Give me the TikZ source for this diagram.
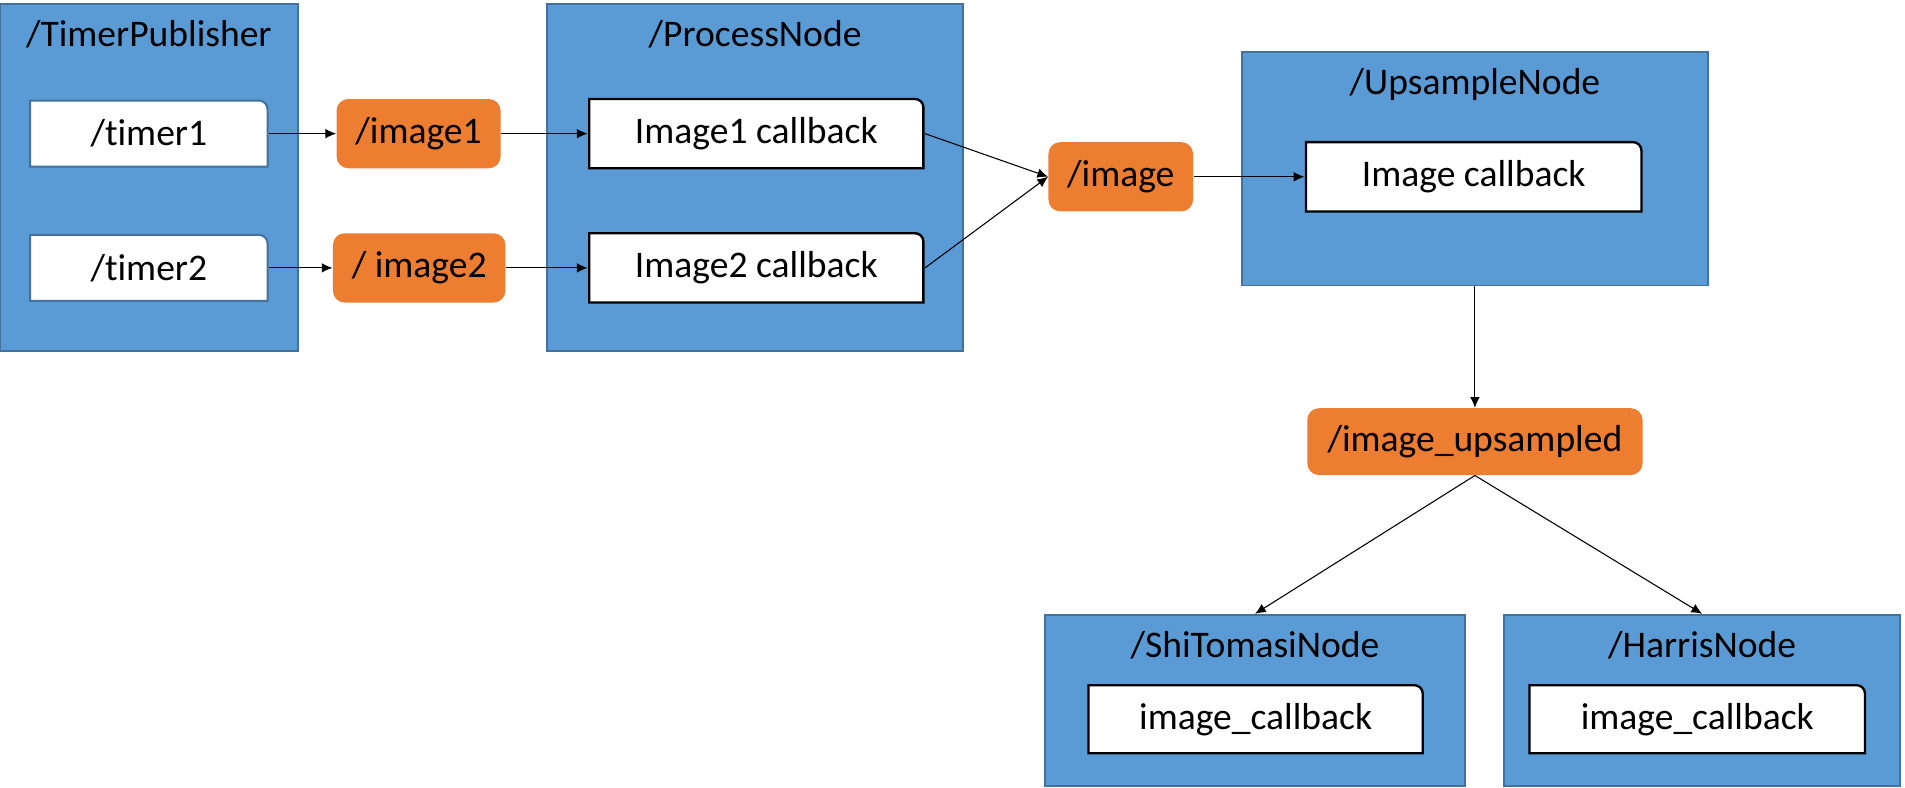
\documentclass[tikz,border=0pt]{standalone}
\usepackage{fontspec}
\setmainfont{Carlito}[Ligatures=NoCommon]
\usetikzlibrary{shapes,shapes.geometric,calc,arrows.meta}

\definecolor{nodeblue}{HTML}{5B9BD5}
\definecolor{nodeline}{HTML}{41719C}
\definecolor{topicorange}{HTML}{ED7D31}

% white box with only the top right corner rounded
\newcommand{\cbshape}[2]{%
	\draw[draw=#1, fill=white, line width=#2]
		([shift={(#2/2,#2/2)}]path picture bounding box.south west)
		-- ([shift={(#2/2,-#2/2)}]path picture bounding box.north west)
		-- ([shift={(-4.5pt,-#2/2)}]path picture bounding box.north east)
		arc[start angle=90, end angle=0, radius=4.5pt-#2/2]
		-- ([shift={(-#2/2,#2/2)}]path picture bounding box.south east)
		-- cycle;}

\begin{document}
\begin{tikzpicture}
	[every node/.style={inner sep=0pt, font=\fontsize{17.6}{21}\selectfont},
		rosnode/.style={shape=rectangle, fill=nodeblue, draw=nodeline, line width=0.9pt},
		topic/.style={shape=rectangle, rounded corners=5.5pt, fill=topicorange, minimum height=1.14cm},
		timerbox/.style={shape=rectangle, minimum width=3.94cm, minimum height=1.12cm,
			path picture={\cbshape{nodeline}{0.9pt}}},
		callback/.style={shape=rectangle, minimum width=5.54cm, minimum height=1.18cm,
			path picture={\cbshape{black}{1.1pt}}},
		flow/.style={-{Latex[length=5pt,width=4.5pt]}, line width=0.5pt}]
	\useasboundingbox (0,0) rectangle (31.36,-12.96);

	% ros nodes
	\node[rosnode, minimum width=4.9cm, minimum height=5.72cm] (tp) at (2.45,-2.92) {};
	\node[rosnode, minimum width=6.86cm, minimum height=5.72cm] (pn) at (12.43,-2.92) {};
	\node[rosnode, minimum width=7.68cm, minimum height=3.84cm] (un) at (24.28,-2.78) {};
	\node[rosnode, minimum width=6.92cm, minimum height=2.82cm] (st) at (20.66,-11.53) {};
	\node[rosnode, minimum width=6.52cm, minimum height=2.82cm] (hn) at (28.02,-11.53) {};

	\node (tpTitle) at ([yshift=-0.52cm]tp.north) {/TimerPublisher};
	\node (pnTitle) at ([yshift=-0.52cm]pn.north) {/ProcessNode};
	\node (unTitle) at ([yshift=-0.54cm]un.north) {/UpsampleNode};
	\node (stTitle) at ([yshift=-0.52cm]st.north) {/ShiTomasiNode};
	\node (hnTitle) at ([yshift=-0.52cm]hn.north) {/HarrisNode};

	% timers and callbacks
	\node[timerbox] (timer1) at (2.45,-2.2) {/timer1};
	\node[timerbox] (timer2) at (2.45,-4.41) {/timer2};
	\node[callback] (cb1) at (12.45,-2.2) {Image1 callback};
	\node[callback] (cb2) at (12.45,-4.41) {Image2 callback};
	\node[callback, minimum width=5.56cm] (cbu) at (24.26,-2.91) {Image callback};
	\node[callback, minimum height=1.16cm] (cbs) at (20.67,-11.84) {image\_callback};
	\node[callback, minimum width=5.56cm, minimum height=1.16cm] (cbh) at (27.94,-11.84) {image\_callback};

	% topics
	\node[topic, minimum width=2.7cm] (image1) at (6.89,-2.2) {/image1};
	\node[topic, minimum width=2.84cm] (image2) at (6.9,-4.41) {/ image2};
	\node[topic, minimum width=2.38cm] (image) at (18.45,-2.91) {/image};
	\node[topic, minimum width=5.52cm, minimum height=1.1cm] (ups) at (24.28,-7.27) {/image\_upsampled};

	\path
	\foreach \startNode/\endNode in {timer1/image1, image1/cb1, timer2/image2, image2/cb2,
		cb1.east/image.west, cb2.east/image.west, image/cbu, un/ups,
		ups.south/st.north, ups.south/hn.north}
	{
		(\startNode) edge[flow] (\endNode)
	};
\end{tikzpicture}
\end{document}
